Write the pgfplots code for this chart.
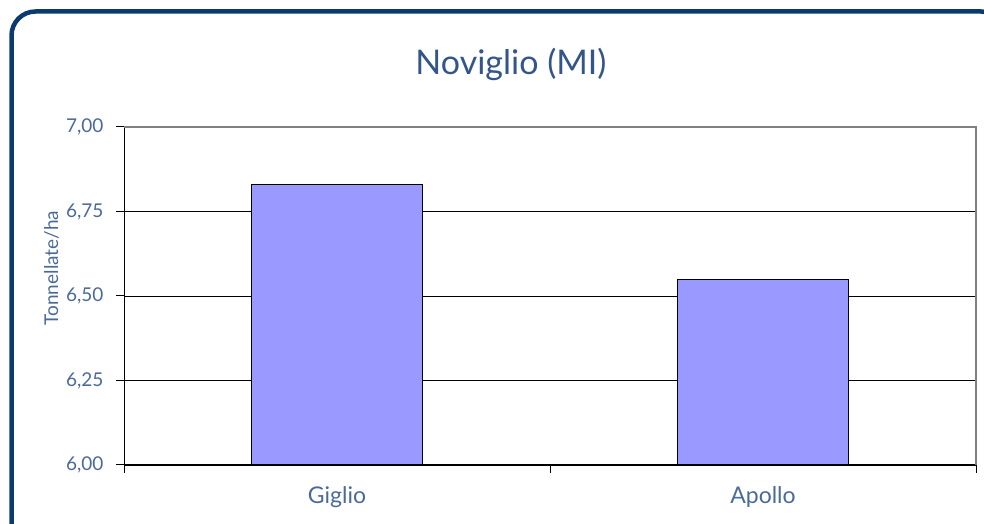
\documentclass[border=0pt]{standalone}
\usepackage{pgfplots}
\pgfplotsset{compat=1.18}
\usepackage{fontspec}
\setmainfont{Lato}
\definecolor{framec}{HTML}{0B3A6E}
\definecolor{txt}{HTML}{4A6A98}
\definecolor{ttl}{HTML}{34558A}
\definecolor{barc}{HTML}{9999FF}
\begin{document}
\begin{tikzpicture}
\useasboundingbox (0pt,0pt) rectangle (984pt,524pt);
\begin{scope}
\clip (0pt,0pt) rectangle (984pt,524pt);
\draw[framec, line width=4.5pt, rounded corners=24pt] (11.5pt,512.5pt) rectangle (1005pt,-40pt);
\end{scope}
\node[ttl, anchor=base, inner sep=0pt, font=\fontsize{34}{36}\selectfont] at (511pt,449.5pt) {Noviglio (MI)};
\node[txt, rotate=90, anchor=base, inner sep=0pt, font=\fontsize{19}{21}\selectfont] at (58pt,256pt) {Tonnellate/ha};
\begin{axis}[at={(124pt,59pt)}, anchor=south west, scale only axis,
  width=852pt, height=338pt,
  xmin=-0.5, xmax=1.5, ymin=6, ymax=7,
  axis lines*=left, axis line style={black, line width=1pt},
  ytick={6,6.25,6.5,6.75,7},
  ymajorgrids, grid style={black, line width=0.8pt},
  xtick={0,1}, xticklabels={Giglio,Apollo},
  minor xtick={-0.5,0.5,1.5},
  tick align=outside, xtick pos=bottom, ytick pos=left,
  major tick length=8pt, minor tick length=8pt,
  major x tick style={draw=none},
  tick style={black, line width=1pt},
  yticklabel style={txt, font=\fontsize{19}{21}\selectfont, xshift=-9pt,
    /pgf/number format/.cd, use comma, fixed, fixed zerofill, precision=2, assume math mode=true},
  xticklabel style={txt, font=\fontsize{23}{25}\selectfont, anchor=base, yshift=-31pt},
  clip=false,
]
\addplot[ybar, bar width=171pt, bar shift=0pt, fill=barc, draw=black, line width=1pt] coordinates {(0,6.83) (1,6.55)};
\draw[gray, line width=1.2pt] (rel axis cs:0,1) -- (rel axis cs:1,1) -- (rel axis cs:1,0);
\end{axis}
\end{tikzpicture}
\end{document}
